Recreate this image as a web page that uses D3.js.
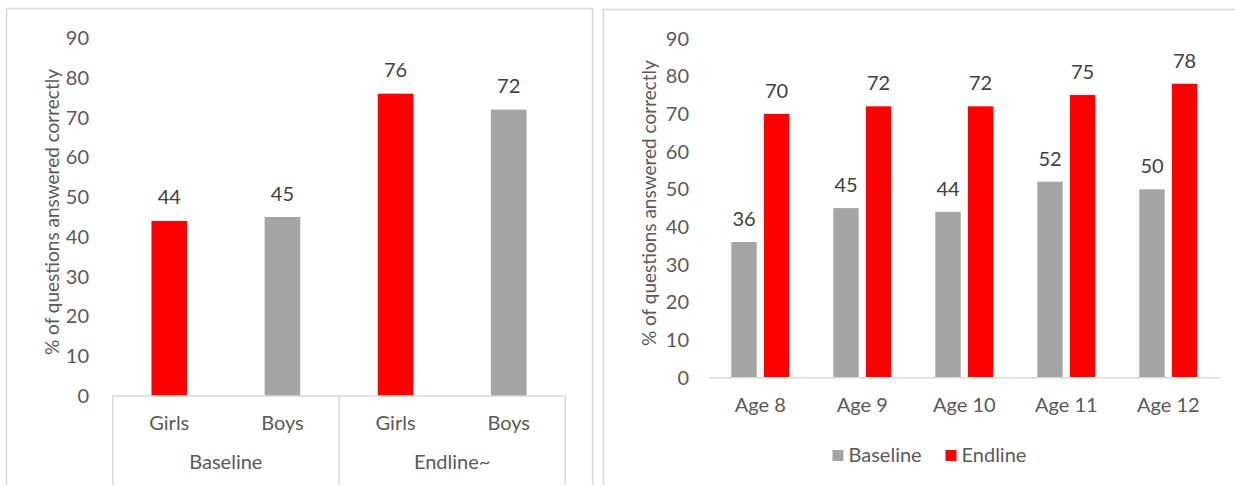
<!DOCTYPE html>
<html>
<head>
<meta charset="utf-8">
<script src="https://cdn.jsdelivr.net/npm/d3@7"></script>
<style>
  html, body { margin: 0; padding: 0; background: #fff; }
  svg { display: block; font-family: "Lato", "Noto Sans", sans-serif; }
</style>
</head>
<body>
<svg id="chart" width="1235" height="485"></svg>
<script>
// ---- data ----
const yTicks = [0, 10, 20, 30, 40, 50, 60, 70, 80, 90];
const axisTitle = "% of questions answered correctly";

// Left chart: gender within survey round
const roundGroups = ["Baseline", "Endline~"];
const genderLabels = ["Girls", "Boys", "Girls", "Boys"];
const genderRound = ["Baseline", "Baseline", "Endline~", "Endline~"];
const genderValues = [44, 45, 76, 72];

// Right chart: by age
const ages = ["Age 8", "Age 9", "Age 10", "Age 11", "Age 12"];
const seriesNames = ["Baseline", "Endline"];
const baselineValues = [36, 45, 44, 52, 50];
const endlineValues = [70, 72, 72, 75, 78];

// ---- styles ----
const RED = "#ff0000", GREY = "#a5a5a5", LINE = "#d9d9d9";
const TICK = "#595959", VAL = "#404040";
const FS = 20;

const svg = d3.select("#chart");

function yAxisText(g, y, xRight, titleX) {
  g.selectAll("text.tick").data(yTicks).join("text")
    .attr("class", "tick")
    .attr("x", xRight).attr("y", d => y(d))
    .attr("dy", "0.35em").attr("text-anchor", "end")
    .attr("fill", TICK).attr("font-size", FS)
    .text(d => d);
  const mid = (y.range()[0] + y.range()[1]) / 2 - 5;
  g.append("text")
    .attr("transform", `translate(${titleX},${mid}) rotate(-90)`)
    .attr("text-anchor", "middle")
    .attr("fill", TICK).attr("font-size", 19)
    .text(axisTitle);
}

// ---------------- left panel ----------------
const left = svg.append("g");
left.append("path")
  .attr("d", "M6.5,486V8.5H592.5V486")
  .attr("fill", "none").attr("stroke", LINE).attr("stroke-width", 1.5);

const yL = d3.scaleLinear().domain([0, 90]).range([396, 38]);
const xL = d3.scaleBand().domain(d3.range(genderValues.length)).range([112.7, 565.3]);
const bwL = xL.bandwidth() * 0.315;

yAxisText(left, yL, 89, 59);

left.selectAll("rect.bar").data(genderValues).join("rect")
  .attr("class", "bar")
  .attr("x", (d, i) => xL(i) + (xL.bandwidth() - bwL) / 2)
  .attr("width", bwL)
  .attr("y", d => yL(d))
  .attr("height", d => yL(0) - yL(d))
  .attr("fill", (d, i) => genderLabels[i] === "Girls" ? RED : GREY);

left.selectAll("text.val").data(genderValues).join("text")
  .attr("class", "val")
  .attr("x", (d, i) => xL(i) + xL.bandwidth() / 2)
  .attr("y", d => yL(d) - 16.5)
  .attr("text-anchor", "middle").attr("fill", VAL).attr("font-size", FS)
  .text(d => d);

// category axis with group separators
const yBase = yL(0);
left.append("line")
  .attr("x1", xL.range()[0]).attr("x2", xL.range()[1])
  .attr("y1", yBase).attr("y2", yBase)
  .attr("stroke", LINE).attr("stroke-width", 1.5);

const groupBounds = roundGroups.map(gname => {
  const idx = genderRound.map((r, i) => r === gname ? i : -1).filter(i => i >= 0);
  return { name: gname, x0: xL(idx[0]), x1: xL(idx[idx.length - 1]) + xL.bandwidth() };
});
const seps = [groupBounds[0].x0, ...groupBounds.map(b => b.x1)];
left.selectAll("line.sep").data(seps).join("line")
  .attr("class", "sep")
  .attr("x1", d => d).attr("x2", d => d)
  .attr("y1", yBase).attr("y2", 486)
  .attr("stroke", LINE).attr("stroke-width", 1.5);

left.selectAll("text.cat").data(genderLabels).join("text")
  .attr("class", "cat")
  .attr("x", (d, i) => xL(i) + xL.bandwidth() / 2)
  .attr("y", 429.5)
  .attr("text-anchor", "middle").attr("fill", TICK).attr("font-size", FS)
  .text(d => d);

left.selectAll("text.grp").data(groupBounds).join("text")
  .attr("class", "grp")
  .attr("x", d => (d.x0 + d.x1) / 2)
  .attr("y", 468.5)
  .attr("text-anchor", "middle").attr("fill", TICK).attr("font-size", FS)
  .text(d => d.name);

// ---------------- right panel ----------------
const right = svg.append("g");
right.append("path")
  .attr("d", "M603.5,486V9.5H1240")
  .attr("fill", "none").attr("stroke", LINE).attr("stroke-width", 1.5);

const yR = d3.scaleLinear().domain([0, 90]).range([377.7, 38.5]);
const xR = d3.scaleBand().domain(ages).range([709.3, 1219.3]);
const xS = d3.scaleBand().domain(seriesNames).range([-29, 29]).paddingInner(0.22);
const seriesColor = d3.scaleOrdinal().domain(seriesNames).range([GREY, RED]);

yAxisText(right, yR, 689, 656);

const rows = ages.flatMap((a, i) => [
  { age: a, s: "Baseline", v: baselineValues[i] },
  { age: a, s: "Endline", v: endlineValues[i] }
]);

right.selectAll("rect.bar").data(rows).join("rect")
  .attr("class", "bar")
  .attr("x", d => xR(d.age) + xR.bandwidth() / 2 + xS(d.s))
  .attr("width", xS.bandwidth())
  .attr("y", d => yR(d.v))
  .attr("height", d => yR(0) - yR(d.v))
  .attr("fill", d => seriesColor(d.s));

right.selectAll("text.val").data(rows).join("text")
  .attr("class", "val")
  .attr("x", d => xR(d.age) + xR.bandwidth() / 2 + xS(d.s) + xS.bandwidth() / 2)
  .attr("y", d => yR(d.v) - 16)
  .attr("text-anchor", "middle").attr("fill", VAL).attr("font-size", FS)
  .text(d => d.v);

right.append("line")
  .attr("x1", xR.range()[0]).attr("x2", xR.range()[1])
  .attr("y1", yR(0)).attr("y2", yR(0))
  .attr("stroke", LINE).attr("stroke-width", 1.5);

right.selectAll("text.cat").data(ages).join("text")
  .attr("class", "cat")
  .attr("x", d => xR(d) + xR.bandwidth() / 2)
  .attr("y", 412)
  .attr("text-anchor", "middle").attr("fill", TICK).attr("font-size", FS)
  .text(d => d);

// legend
const legend = right.append("g");
const legX = [832.5, 945.5];
seriesNames.forEach((s, i) => {
  legend.append("rect")
    .attr("x", legX[i]).attr("y", 450).attr("width", 11).attr("height", 11)
    .attr("fill", seriesColor(s));
  legend.append("text")
    .attr("x", legX[i] + 16).attr("y", 461.5)
    .attr("fill", TICK).attr("font-size", FS)
    .text(s);
});
</script>
</body>
</html>
